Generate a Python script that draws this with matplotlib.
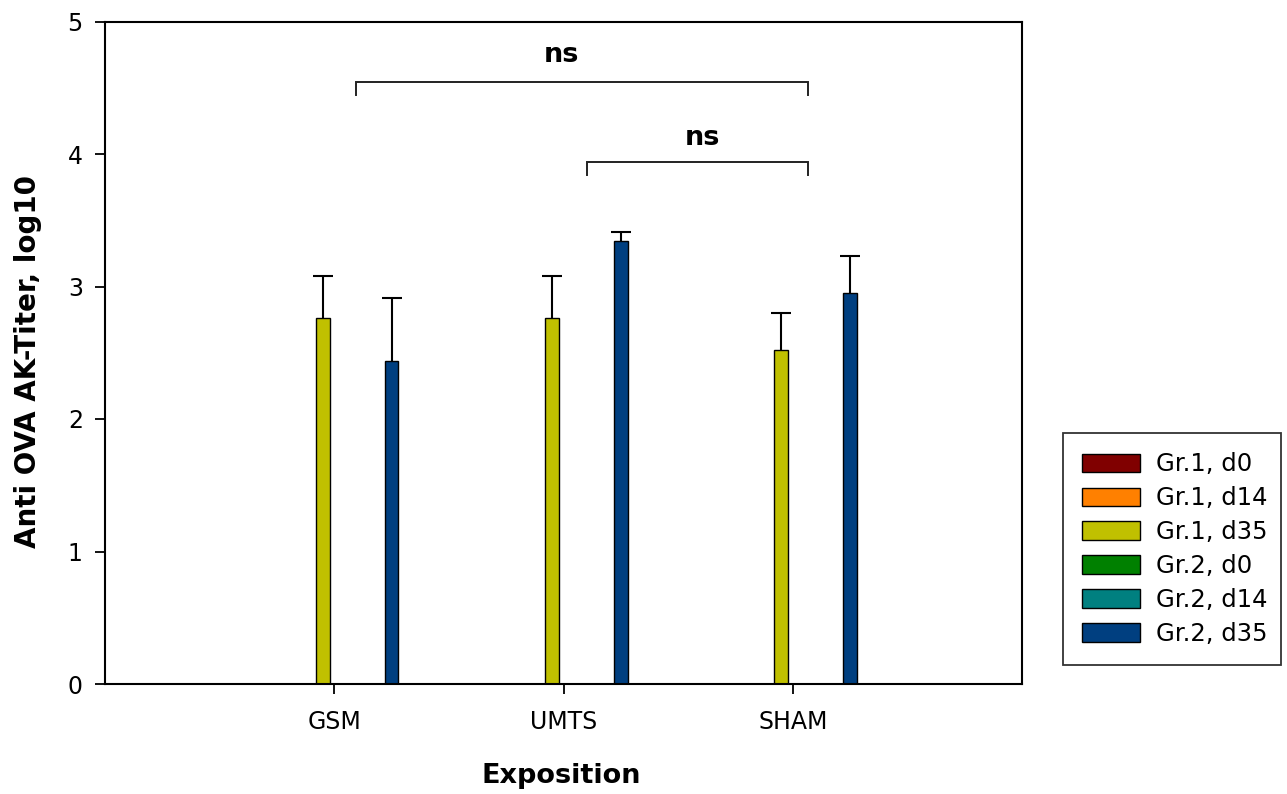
import numpy as np
import matplotlib
matplotlib.use("Agg")
import matplotlib.pyplot as plt

categories = ["GSM", "UMTS", "SHAM"]
series_names = ["Gr.1, d0", "Gr.1, d14", "Gr.1, d35", "Gr.2, d0", "Gr.2, d14", "Gr.2, d35"]
series_colors = ["#800000", "#FF8000", "#C0C000", "#008000", "#008080", "#003F80"]
# values (NaN = not shown in chart)
gr1_d0 = [np.nan, np.nan, np.nan]
gr1_d14 = [np.nan, np.nan, np.nan]
gr1_d35 = [2.76, 2.76, 2.52]
gr2_d0 = [np.nan, np.nan, np.nan]
gr2_d14 = [np.nan, np.nan, np.nan]
gr2_d35 = [2.44, 3.34, 2.95]
# upper error bars
gr1_d35_err = [0.32, 0.32, 0.28]
gr2_d35_err = [0.47, 0.07, 0.28]
values = [gr1_d0, gr1_d14, gr1_d35, gr2_d0, gr2_d14, gr2_d35]
errors = [None, None, gr1_d35_err, None, None, gr2_d35_err]

# significance brackets: (x_start, x_end, y, label, text_x, text_y)
brackets = [(0.094, 2.068, 4.542, "ns", 0.993, 4.744),
            (1.103, 2.068, 3.939, "ns", 1.607, 4.118)]

fig = plt.figure(figsize=(12.87, 7.94), dpi=100)
ax = fig.add_axes([105/1287, 1-684/794, (1022-105)/1287, (684-21.5)/794])

x = np.arange(len(categories))
offsets = [-0.25, -0.15, -0.05, 0.05, 0.15, 0.25]
width = 0.06
handles = []
for vals, err, off, col, name in zip(values, errors, offsets, series_colors, series_names):
    v = np.array(vals, dtype=float)
    bc = ax.bar(x + off, v, width, color=col, edgecolor="black", linewidth=1.0, label=name, zorder=2)
    if err is not None:
        yerr = np.vstack([np.zeros(len(err)), err])
        eb = ax.errorbar(x + off, v, yerr=yerr, fmt="none", ecolor="black", elinewidth=1.5,
                         capsize=7, capthick=1.5, zorder=3)
        for cl in eb[1]:
            yd = np.asarray(cl.get_ydata(), dtype=float)
            if np.allclose(yd, v):
                cl.set_visible(False)
    handles.append(bc)

for x0, x1, y, lab, tx, ty in brackets:
    ax.plot([x0, x0, x1, x1], [y - 0.1, y, y, y - 0.1], color="#222222", lw=1.4,
            solid_joinstyle="miter", clip_on=False, zorder=4)
    ax.text(tx, ty, lab, ha="center", va="center", fontsize=19.5, fontweight="bold")

ax.set_xlim(-1, 3)
ax.set_ylim(0, 5)
ax.set_xticks(x)
ax.set_xticklabels(categories, fontsize=17)
ax.set_yticks([0, 1, 2, 3, 4, 5])
ax.set_yticklabels(["0", "1", "2", "3", "4", "5"], fontsize=17)
ax.tick_params(axis="both", direction="out", length=7, width=1.3, pad=6)
ax.tick_params(axis="x", pad=12)
ax.tick_params(axis="y", pad=9)
for s in ax.spines.values():
    s.set_linewidth(1.5)

fig.text(561/1287, 1-776/794, "Exposition", ha="center", va="center",
         fontsize=19.5, fontweight="bold")
fig.text(28/1287, 1-361/794, "Anti OVA AK-Titer, log10", ha="center", va="center",
         rotation=90, fontsize=20, fontweight="bold")

leg_h = 0.01
leg = fig.legend(handles=handles, labels=series_names, loc="upper left",
                 bbox_to_anchor=(1062.7/1287, 1-432.7/794 - leg_h, (1280.7-1062.7)/1287, leg_h),
                 mode="expand", fontsize=17.5, frameon=True, fancybox=False, shadow=False,
                 handlelength=2.39, handleheight=0.78, handletextpad=0.65,
                 labelspacing=0.41, borderpad=0.8, borderaxespad=0)
leg.get_frame().set_edgecolor("black")
leg.get_frame().set_linewidth(1.3)

fig.savefig("out.png", dpi=100)
